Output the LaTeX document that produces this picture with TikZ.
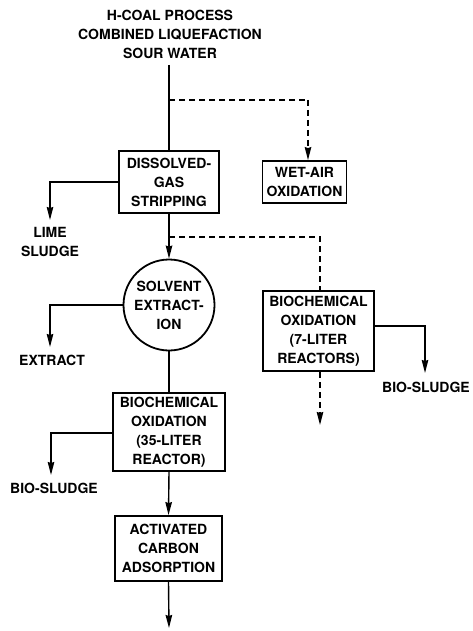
\documentclass[tikz,border=0pt]{standalone}
\usepackage{fontspec}
\setmainfont{TeX Gyre Heros}
\usetikzlibrary{arrows.meta}
\begin{document}
\begin{tikzpicture}[x=1pt,y=-1pt,
  txt/.style={font=\fontsize{14}{19}\selectfont\bfseries, align=center, inner sep=0pt},
  box/.style={txt, draw, line width=1.8pt},
  line/.style={line width=1.4pt},
  flow/.style={line, -{Stealth[length=13pt,width=6.5pt,inset=1pt]}},
  dflow/.style={flow, dash pattern=on 6pt off 4pt},
  dline/.style={line, dash pattern=on 6pt off 4pt}
]
\useasboundingbox (0,0) rectangle (472,631);

% title
\node[txt] (title) at (170,34) {H-COAL PROCESS\\COMBINED LIQUEFACTION\\SOUR WATER};
\coordinate (top) at (169,65);

% boxes
\node[box, minimum width=100pt, minimum height=62pt] (dgs) at (169,182) {DISSOLVED-\\GAS\\STRIPPING};
\node[box, minimum width=84pt, minimum height=42pt] (wao) at (304.5,182) {WET-AIR\\OXIDATION};
\node[txt, draw, line width=1.8pt, circle, minimum size=91pt] (sol) at (169,305) {SOLVENT\\EXTRACT-\\ION};
\node[box, minimum width=111pt, minimum height=80pt] (bio7) at (318.5,331) {BIOCHEMICAL\\OXIDATION\\(7-LITER\\REACTORS)};
\node[box, minimum width=112pt, minimum height=78pt] (bio35) at (169,432) {BIOCHEMICAL\\OXIDATION\\(35-LITER\\REACTOR)};
\node[box, minimum width=107pt, minimum height=65pt] (acad) at (168.5,548.5) {ACTIVATED\\CARBON\\ADSORPTION};

% labels
\node[txt] (lime) at (50,242) {LIME\\SLUDGE};
\node[txt] (extract) at (52,360) {EXTRACT};
\node[txt] (bs1) at (54,488) {BIO-SLUDGE};
\node[txt] (bs2) at (426,387) {BIO-SLUDGE};

% junction coordinates
\coordinate (j1) at (169,100);
\coordinate (d1) at (308,100);
\coordinate (j2) at (169,237);
\coordinate (d2) at (320,237);
\coordinate (limeTip) at (50,220);
\coordinate (extTip) at (50,347);
\coordinate (bs1Tip) at (51,475);
\coordinate (bs2Tip) at (425,373);
\coordinate (dTip) at (320,425);
\coordinate (endTip) at (169,628);
\coordinate (bs1Turn) at (51,433);
\coordinate (bs2Turn) at (425,326);

% main flow
\draw[line] (top) -- (dgs.north);
\draw[flow] (dgs.south) -- (sol.north);
\draw[line] (sol.south) -- (bio35.north);
\draw[flow] (bio35.south) -- (acad.north);
\draw[flow] (acad.south) -- (endTip);

% side outputs
\draw[flow] (dgs.west) -- (dgs.west -| limeTip) -- (limeTip);
\draw[flow] (sol.west) -- (sol.west -| extTip) -- (extTip);
\draw[flow] (bio35.west |- bs1Turn) -- (bs1Turn) -- (bs1Tip);
\draw[flow] (bio7.east |- bs2Turn) -- (bs2Turn) -- (bs2Tip);

% dashed branches
\draw[dline] (j1) -- (d1);
\draw[dflow] (d1) -- (d1 |- wao.north);
\draw[dline] (j2) -- (d2) -- (d2 |- bio7.north);
\draw[dflow] (bio7.south -| dTip) -- (dTip);
\end{tikzpicture}
\end{document}
